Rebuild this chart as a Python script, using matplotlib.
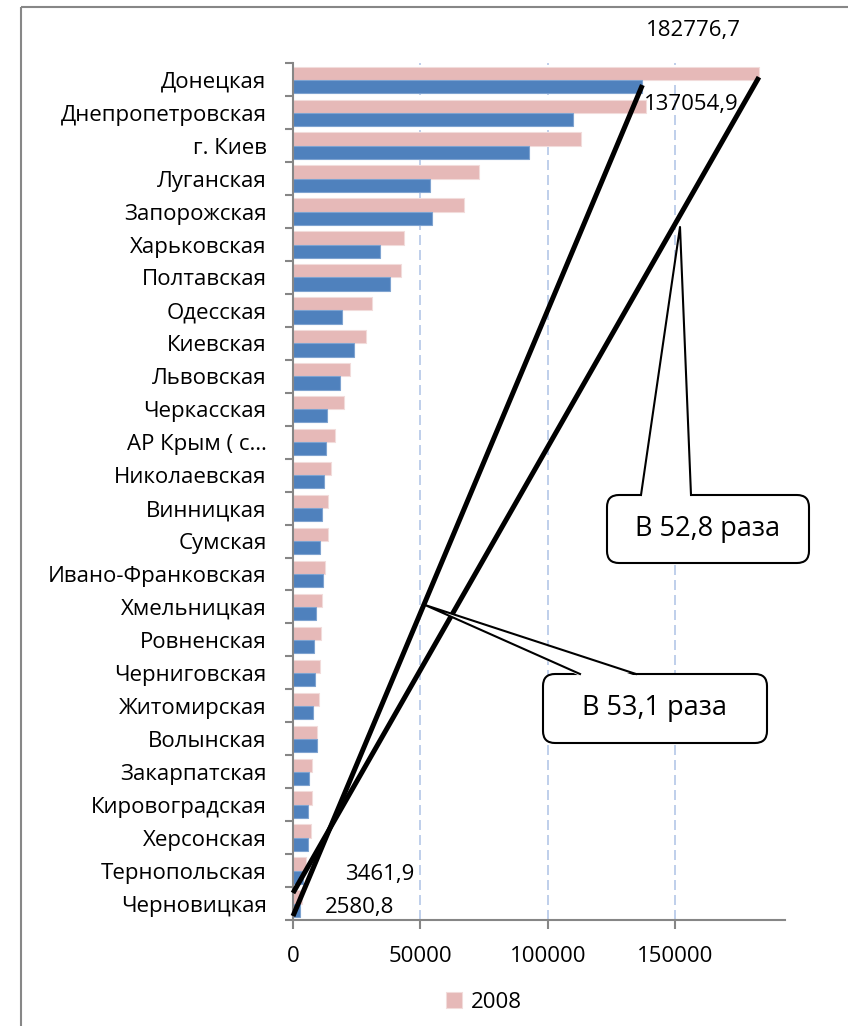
import matplotlib
matplotlib.use("Agg")
import matplotlib.pyplot as plt
import numpy as np
from matplotlib.patches import FancyBboxPatch, Polygon, Rectangle
from matplotlib.lines import Line2D
from matplotlib.transforms import Affine2D

plt.rcParams['font.family'] = ['Open Sans', 'DejaVu Sans']

regions = ['Донецкая', 'Днепропетровская', 'г. Киев', 'Луганская', 'Запорожская', 'Харьковская',
           'Полтавская', 'Одесская', 'Киевская', 'Львовская', 'Черкасская', 'АР Крым ( с…',
           'Николаевская', 'Винницкая', 'Сумская', 'Ивано-Франковская', 'Хмельницкая', 'Ровненская',
           'Черниговская', 'Житомирская', 'Волынская', 'Закарпатская', 'Кировоградская', 'Херсонская',
           'Тернопольская', 'Черновицкая']
values_2008 = [182776.7, 138500, 113000, 73100, 67200, 43400, 42400, 31100, 28700, 22200, 20200, 16300,
               15100, 13900, 13800, 12600, 11400, 10900, 10500, 10200, 9450, 7600, 7500, 6950, 5100, 3461.9]
values_old = [137054.9, 109800, 92500, 53900, 54700, 34250, 38200, 19300, 23900, 18400, 13500, 13000,
              12100, 11550, 10400, 11800, 9200, 8300, 8500, 8000, 9300, 6400, 5800, 5800, 3900, 2580.8]
x_ticks = [0, 50000, 100000, 150000]

W, H = 848, 1026
fig = plt.figure(figsize=(W / 100, H / 100), dpi=100)
# pixel coordinates measured from the top-left corner of the picture
px = Affine2D().scale(1 / W, -1 / H).translate(0, 1) + fig.transFigure

ax = fig.add_axes([293 / W, 1 - 920 / H, (785 - 293) / W, (920 - 63.3) / H])
n = len(regions)
y = np.arange(n)
pink = ax.barh(y - 0.2, values_2008, height=0.4, color='#E6B9B8', edgecolor='#F2DCDB', linewidth=0.8,
               label='2008', zorder=2)
blue = ax.barh(y + 0.2, values_old, height=0.4, color='#4F81BD', edgecolor='#7EA3D0', linewidth=0.8,
               zorder=2)

ax.set_ylim(n - 0.5, -0.5)
ax.set_xlim(0, 193000)
ax.set_yticks(y)
ax.set_yticklabels(regions, fontsize=16)
ax.set_yticks(np.arange(n + 1) - 0.5, minor=True)
ax.tick_params(axis='y', which='major', length=0, pad=19)
ax.tick_params(axis='y', which='minor', length=6, width=1.5, color='#868686')
ax.set_xticks(x_ticks)
ax.xaxis.set_major_formatter(lambda v, p: f"{int(v)}")
ax.tick_params(axis='x', length=6.5, width=1.5, color='#868686', pad=12, labelsize=16)
for s in ['top', 'right']:
    ax.spines[s].set_visible(False)
for s in ['left', 'bottom']:
    ax.spines[s].set_color('#868686')
    ax.spines[s].set_linewidth(1.5)
ax.grid(axis='x', color='#B4C7E7', linestyle=(0, (6, 3)), linewidth=1.2)
ax.set_axisbelow(True)


def fmt(v):
    return f"{v:.1f}".replace('.', ',')


ax.annotate(fmt(values_2008[0]), (values_2008[0], -0.2), xytext=(-66, 43), textcoords='offset pixels',
            ha='center', va='center', fontsize=16, annotation_clip=False)
ax.annotate(fmt(values_old[0]), (values_old[0], 0.2), xytext=(49, -18), textcoords='offset pixels',
            ha='center', va='center', fontsize=16, annotation_clip=False, zorder=4)
ax.annotate(fmt(values_2008[-1]), (values_2008[-1], n - 1 - 0.2), xytext=(78, 22), textcoords='offset pixels',
            ha='center', va='center', fontsize=16, annotation_clip=False)
ax.annotate(fmt(values_old[-1]), (values_old[-1], n - 1 + 0.2), xytext=(60, 3), textcoords='offset pixels',
            ha='center', va='center', fontsize=16, annotation_clip=False)

# hand-drawn comparison lines: max to min of each year
ax.plot([values_old[0], 0], [0.16, n - 1 + 0.38], color='black', lw=3.6, zorder=5, clip_on=False,
        solid_capstyle='butt')
ax.plot([values_2008[0], 0], [-0.08, n - 1 - 0.32], color='black', lw=3.6, zorder=5, clip_on=False,
        solid_capstyle='butt')


def callout(box, base, tip, text):
    bx, by, bw, bh = box
    fig.patches.append(FancyBboxPatch((bx, by), bw, bh, boxstyle='round,pad=0,rounding_size=12',
                                      transform=px, fc='white', ec='black', lw=1.5, zorder=10))
    fig.patches.append(Polygon([(base[0], by + 2), tip, (base[1], by + 2)], closed=True, transform=px,
                               fc='white', ec='none', zorder=11))
    fig.lines.append(Line2D([base[0], tip[0], base[1]], [by, tip[1], by], transform=px, color='black',
                            lw=1.5, zorder=12))
    fig.text(bx + bw / 2, by + bh / 2, text, transform=px, ha='center', va='center', fontsize=19.5, zorder=13)


callout((607, 495, 202, 68), (641, 691), (680, 227), 'В 52,8 раза')
callout((543, 674, 224, 69), (580, 636), (425, 605), 'В 53,1 раза')

fig.patches.append(Rectangle((21, 7), W, H, transform=px, fill=False, ec='#878787', lw=1.5))

fig.legend(handles=[pink], labels=['2008'], loc='center', bbox_to_anchor=(484 / W, 1 - 1002 / H),
           frameon=False, fontsize=16, handlelength=0.7, handleheight=0.7, handletextpad=0.4)

fig.savefig('out.png', dpi=100)
